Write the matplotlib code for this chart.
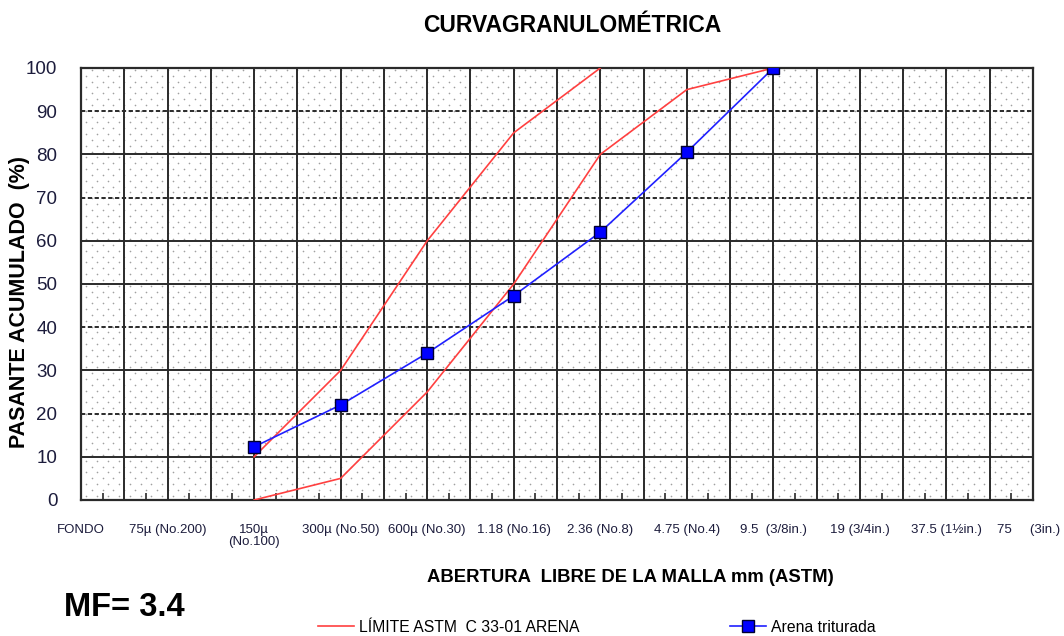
import matplotlib
matplotlib.use('Agg')
import matplotlib.pyplot as plt
import numpy as np

plt.rcParams['font.family'] = ['Liberation Sans', 'DejaVu Sans']

# sieve sizes, one category per position on the x axis
sieves = ['FONDO', '75µ (No.200)', '150µ\n(No.100)', '300µ (No.50)', '600µ (No.30)',
          '1.18 (No.16)', '2.36 (No.8)', '4.75 (No.4)', '9.5  (3/8in.)',
          '19 (3/4in.)', '37.5 (1½in.)', '75     (3in.)']

# ASTM C 33-01 limits (upper and lower)
upper_pos = [2, 3, 4, 5, 6]
upper_val = [10, 30, 60, 85, 100]
lower_pos = [2, 3, 4, 5, 6, 7, 8]
lower_val = [0, 5, 25, 50, 80, 95, 100]

# crushed sand
sample_pos = [2, 3, 4, 5, 6, 7, 8]
sample_val = [12.3, 22, 34, 47.3, 62, 80.5, 100]

solid_y = [10, 30, 50, 60, 80, 100]
dashed_y = [20, 40, 70, 90]

fig = plt.figure(figsize=(10.64, 6.36), dpi=100)
ax = fig.add_axes([81/1064, 1-500/636, (1033-81)/1064, (500-68)/636])
ax.set_xlim(0, 11)
ax.set_ylim(0, 100)

# dotted background pattern
xs = np.arange(0.0625, 11, 0.125)
ys = np.arange(1.0, 100, 1.35)
px, py = [], []
for i, y in enumerate(ys):
    off = 0.0625 if i % 2 else 0
    for x in xs:
        if x + off < 11:
            px.append(x + off)
            py.append(y)
ax.scatter(px, py, s=1.4, color='#a0a0a0', linewidths=0, zorder=1)

# grid
for x in np.arange(0.5, 11, 0.5):
    ax.axvline(x, color='#2a2a2a', lw=1.4, zorder=2)
for y in solid_y:
    ax.axhline(y, color='#2a2a2a', lw=1.4, zorder=2)
for y in dashed_y:
    ax.axhline(y, color='#2a2a2a', lw=1.4, ls=(0, (2.2, 1.3)), zorder=2)

ax.plot(upper_pos, upper_val, color='#ff4040', lw=1.2, zorder=3,
        label='LÍMITE ASTM  C 33-01 ARENA')
ax.plot(lower_pos, lower_val, color='#ff4040', lw=1.2, zorder=3)
ax.plot(sample_pos, sample_val, color='#2020ff', lw=1.2, marker='s', ms=8.5,
        mfc='#0000ff', mec='#000030', mew=1.0, zorder=4, label='Arena triturada')

for s in ax.spines.values():
    s.set_color('#2a2a2a')
    s.set_linewidth(1.6)

ax.set_yticks(range(0, 101, 10))
ax.tick_params(axis='y', length=0, pad=17, labelsize=13.5, labelcolor='#1c1c3c')
ax.set_xticks(range(len(sieves)))
# last label is drawn separately, nudged left so it stays inside the figure
ax.set_xticklabels(sieves[:-1] + [''], fontsize=9.5, color='#1c1c3c', va='top',
                   linespacing=1.0)
ax.tick_params(axis='x', length=0, pad=17)
ax.annotate(sieves[-1], xy=(len(sieves) - 1, 0), xycoords='data', xytext=(-3, -17),
            textcoords='offset points', ha='center', va='top', fontsize=9.5,
            color='#1c1c3c', annotation_clip=False)
ax.set_xticks(np.arange(0.25, 11, 0.5), minor=True)
ax.tick_params(axis='x', which='minor', direction='in', length=5, width=1.2, color='#2a2a2a')

fig.text(572/1064, 1-26/636, 'CURVAGRANULOMÉTRICA', ha='center', va='center',
         fontsize=16.5, fontweight='bold')
fig.text(20/1064, 1-302/636, 'PASANTE ACUMULADO  (%)', ha='center', va='center',
         rotation=90, fontsize=15.5, fontweight='bold')
fig.text(630/1064, 1-578/636, 'ABERTURA  LIBRE DE LA MALLA mm (ASTM)', ha='center',
         va='center', fontsize=13.3, fontweight='bold')
fig.text(64/1064, 1-608/636, 'MF= 3.4', ha='left', va='center',
         fontsize=23.5, fontweight='bold')

fig.legend(loc='center', bbox_to_anchor=(597/1064, 1-627/636), ncol=2, frameon=False,
           fontsize=11.3, handlelength=2.3, columnspacing=9.6, handletextpad=0.3)

fig.savefig('out.png', dpi=100)
